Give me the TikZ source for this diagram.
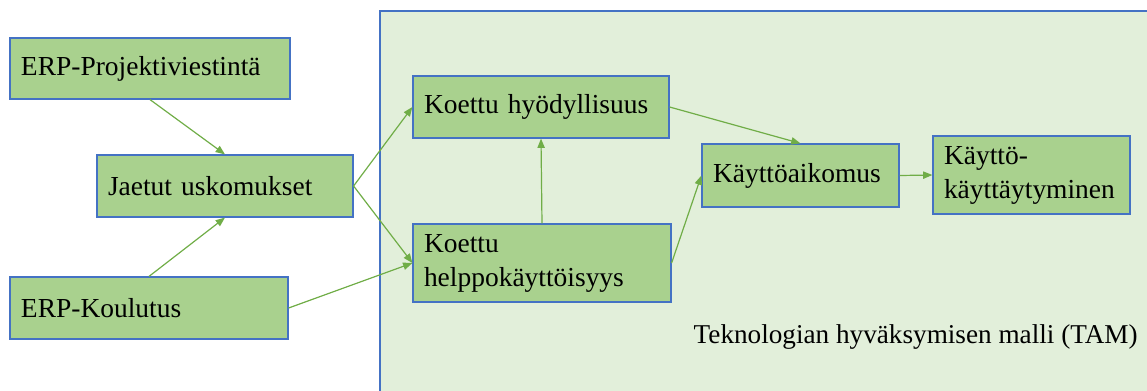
\documentclass[tikz,border=0pt]{standalone}
\usepackage{fontspec}
\setmainfont{Liberation Serif}
\usetikzlibrary{arrows.meta}
\definecolor{boxfill}{HTML}{A9D18E}
\definecolor{boxline}{HTML}{4472C4}
\definecolor{arrowgreen}{HTML}{70AD47}
\definecolor{tamfill}{HTML}{E2EFDA}
\tikzset{
  box/.style={draw=boxline, line width=0.9pt, fill=boxfill, inner xsep=8.25pt,
    inner ysep=2pt, align=left, font=\fontsize{20.6pt}{25.5pt}\selectfont},
  link/.style={draw=arrowgreen, line width=0.9pt,
    -{Triangle[length=7pt,width=5.5pt]}},
  tamframe/.style={draw=boxline, line width=0.9pt, fill=tamfill},
}
\begin{document}
\begin{tikzpicture}[x=0.75pt, y=-0.75pt]
  \useasboundingbox (0,0) rectangle (1147,390);
  % TAM region
  \draw[tamframe] (380,11) rectangle (1155,400);
  \node[anchor=base west, font=\fontsize{20.4pt}{25pt}\selectfont] (tam) at (689,343)
    {Teknologian hyväksymisen malli (TAM)};

  % boxes
  \node[box, minimum width=210pt, minimum height=45.75pt, text width=193.5pt] (proj) at (150,68.5) {ERP-Projektiviestintä};
  \node[box, minimum width=192pt, minimum height=46.5pt, text width=175.5pt] (jaet) at (225,186) {Jaetut uskomukset};
  \node[box, minimum width=208.5pt, minimum height=46.5pt, text width=192pt] (koul) at (149,308) {ERP-Koulutus};
  \node[box, minimum width=192pt, minimum height=46.5pt, text width=175.5pt] (hyod) at (541,107) {Koettu hyödyllisuus};
  \node[box, minimum width=193.5pt, minimum height=58.5pt, text width=177pt] (help) at (542,263) {Koettu\\helppokäyttöisyys};
  \node[box, minimum width=147.75pt, minimum height=47.25pt, text width=131.25pt] (aik) at (800.5,175.5) {Käyttöaikomus};
  \node[box, minimum width=147.75pt, minimum height=58.5pt, text width=131.25pt] (kayt) at (1031.5,175) {Käyttö-\\käyttäytyminen};

  % connectors
  \draw[link] (proj.south) -- (jaet.north);
  \draw[link] (koul.north) -- (jaet.south);
  \draw[link] (jaet.east) -- (hyod.west);
  \draw[link] (jaet.east) -- (help.west);
  \draw[link] (koul.east) -- (help.west);
  \draw[link] (help.north) -- (hyod.south);
  \draw[link] (hyod.east) -- (aik.north);
  \draw[link] (help.east) -- (aik.west);
  \draw[link] (aik.east) -- (kayt.west);
\end{tikzpicture}
\end{document}
